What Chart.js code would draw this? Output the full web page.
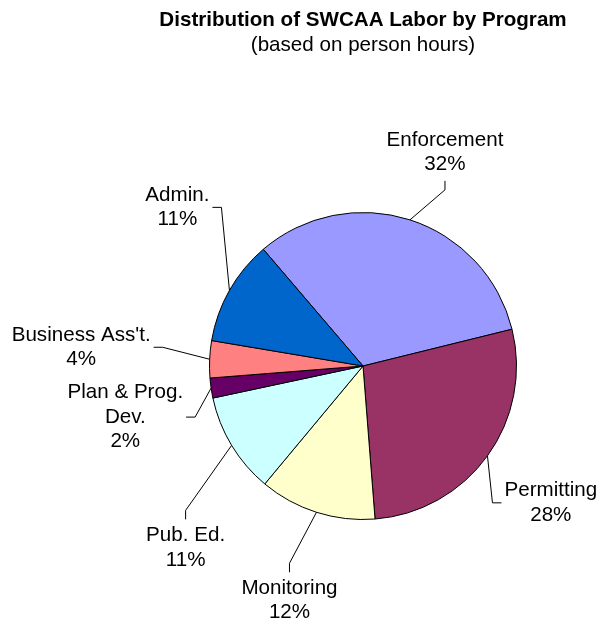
<!DOCTYPE html>
<html>
<head>
<meta charset="utf-8">
<script src="https://cdn.jsdelivr.net/npm/chart.js@4.4.0/dist/chart.umd.min.js"></script>
<style>
  html, body { margin: 0; padding: 0; background: #fff; }
  canvas { display: block; }
</style>
</head>
<body>
<canvas id="pie" width="599" height="622"></canvas>
<script>
    'use strict';

    // share of person hours, clockwise from the top-left
    var categories = ['Enforcement', 'Permitting', 'Monitoring', 'Pub. Ed.', ['Plan & Prog.', 'Dev.'], "Business Ass't.", 'Admin.'];
    var values = [32.4, 27.6, 12.3, 10.6, 2.1, 3.9, 11.1];
    var colors = ['#9999FF', '#993366', '#FFFFCC', '#CCFFFF', '#660066', '#FF8080', '#0066CC'];

    var titleText = 'Distribution of SWCAA Labor by Program';
    var subtitleText = '(based on person hours)';

    // where each callout sits: elbow offset from the slice edge, then a short stub towards the text
    var placement = [
        { side: 'top',    dx: 35,  dy: -30 },
        { side: 'right',  dx: 5,   dy: 47 },
        { side: 'bottom', dx: -27, dy: 51 },
        { side: 'bottom', dx: -46, dy: 65 },
        { side: 'left',   dx: -16, dy: 29 },
        { side: 'left',   dx: -47, dy: -12 },
        { side: 'left',   dx: -8,  dy: -83 }
    ];

    var FONT = '"Liberation Sans", Arial, sans-serif';
    var SIZE = 20.6;
    var STUB = 9, GAP = 3, LH = 24.5;

    var calloutPlugin = {
        id: 'callouts',
        afterDatasetsDraw: function (chart) {
            var ctx = chart.ctx;
            var meta = chart.getDatasetMeta(0);
            var total = values.reduce(function (a, b) { return a + b; }, 0);
            var area = chart.chartArea;
            var cxTitle = (area.left + area.right) / 2;

            ctx.save();
            ctx.fillStyle = '#000';
            ctx.textAlign = 'center';
            ctx.textBaseline = 'middle';
            ctx.font = 'bold ' + SIZE + 'px ' + FONT;
            ctx.fillText(titleText, cxTitle, 20);
            ctx.font = SIZE + 'px ' + FONT;
            ctx.fillText(subtitleText, cxTitle, 45);

            ctx.strokeStyle = '#000';
            ctx.lineWidth = 1;
            meta.data.forEach(function (arc, i) {
                var p = arc.getProps(['x', 'y', 'startAngle', 'endAngle', 'outerRadius'], true);
                var mid = (p.startAngle + p.endAngle) / 2;
                var ex = p.x + Math.cos(mid) * p.outerRadius;
                var ey = p.y + Math.sin(mid) * p.outerRadius;
                var pl = placement[i];
                var bx = ex + pl.dx, by = ey + pl.dy;
                var sx = bx, sy = by;
                if (pl.side === 'top') sy -= STUB;
                if (pl.side === 'bottom') sy += STUB;
                if (pl.side === 'left') sx -= STUB;
                if (pl.side === 'right') sx += STUB;

                ctx.beginPath();
                ctx.moveTo(ex, ey);
                ctx.lineTo(bx, by);
                ctx.lineTo(sx, sy);
                ctx.stroke();

                var lines = [].concat(categories[i], Math.round(values[i] / total * 100) + '%');
                var w = 0;
                lines.forEach(function (t) { w = Math.max(w, ctx.measureText(t).width); });
                var n = lines.length;
                var tx, ty;
                if (pl.side === 'top') { tx = sx; ty = sy - 16.5 - (n - 1) * LH; }
                else if (pl.side === 'bottom') { tx = sx; ty = sy + 16; }
                else if (pl.side === 'left') { tx = sx - GAP - w / 2; ty = sy - (n - 1) * LH / 2; }
                else { tx = sx + GAP + w / 2; ty = sy - (n - 1) * LH / 2; }
                lines.forEach(function (t, k) { ctx.fillText(t, tx, ty + k * LH); });
            });
            ctx.restore();
        }
    };

    var ctx = document.getElementById('pie').getContext('2d');
    window.laborPie = new Chart(ctx, {
        type: 'pie',
        data: {
            labels: categories,
            datasets: [{
                data: values,
                backgroundColor: colors,
                borderColor: '#000',
                borderWidth: 1
            }]
        },
        options: {
            responsive: false,
            animation: false,
            events: [],
            rotation: -40.5,
            layout: { padding: { left: 209, right: 82, top: 212, bottom: 102 } },
            plugins: {
                legend: { display: false },
                tooltip: { enabled: false },
                title: { display: false }
            }
        },
        plugins: [calloutPlugin]
    });
</script>
</body>
</html>
